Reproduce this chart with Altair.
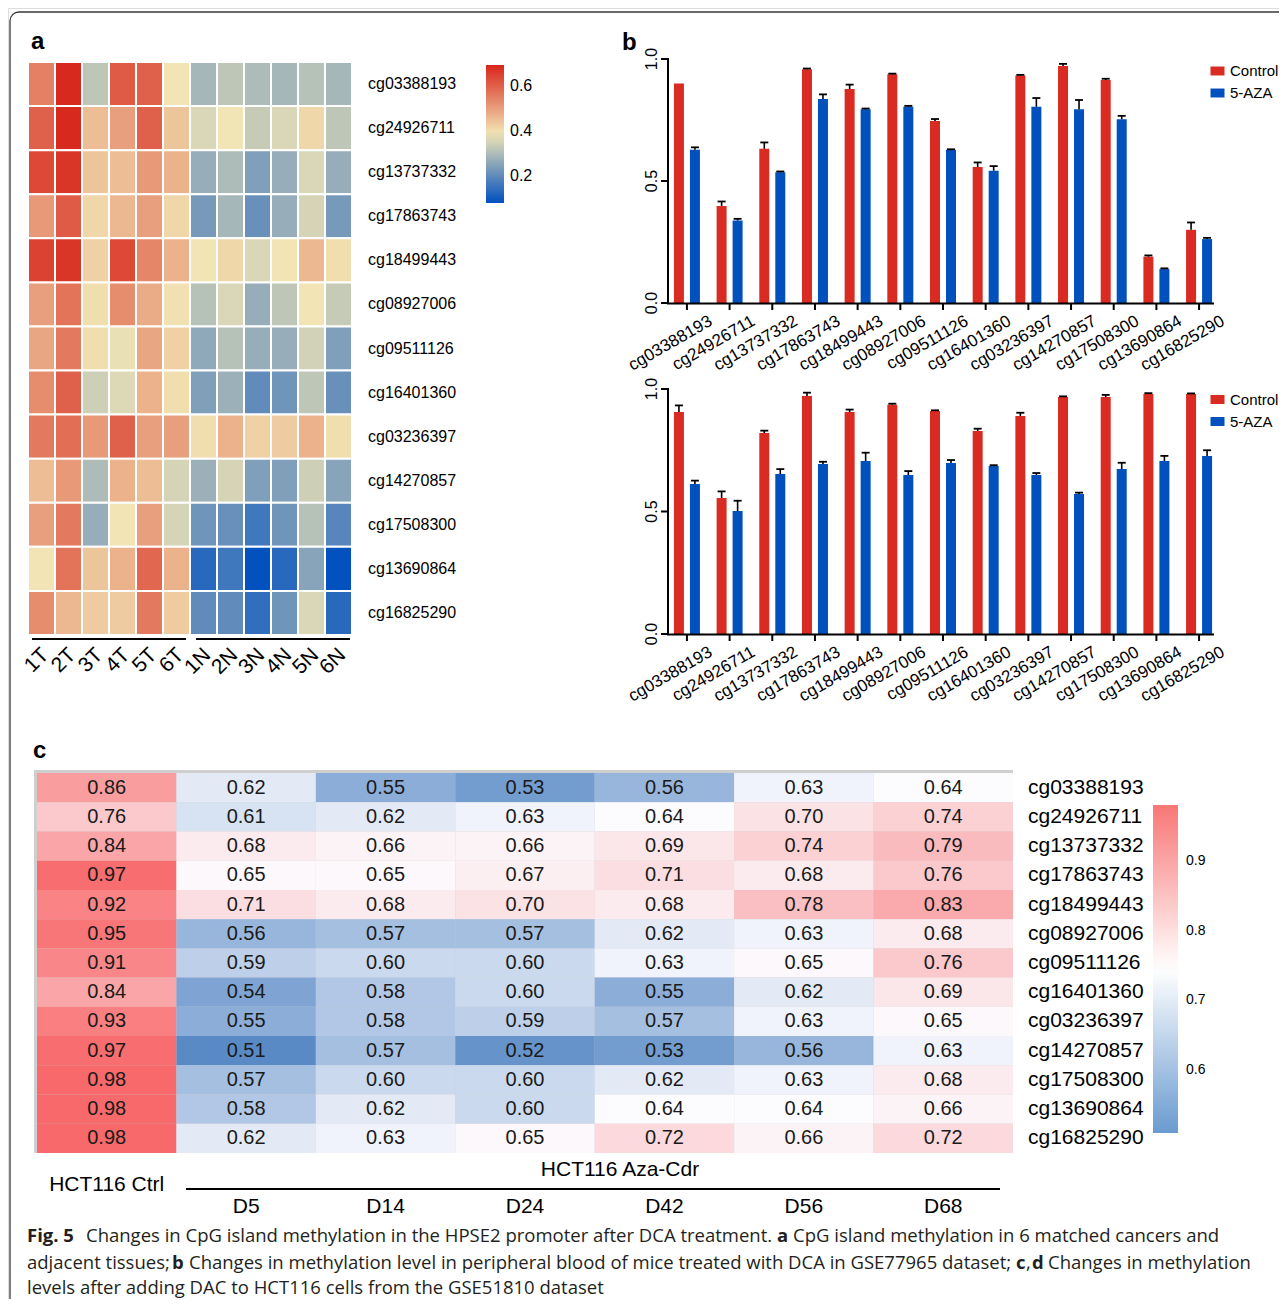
import altair as alt
import pandas as pd

W, H = 1271, 1291
F = "Liberation Sans"
CAP_F = "Open Sans"

probes = ["cg03388193", "cg24926711", "cg13737332", "cg17863743", "cg18499443",
          "cg08927006", "cg09511126", "cg16401360", "cg03236397", "cg14270857",
          "cg17508300", "cg13690864", "cg16825290"]

# ---------------- panel a ----------------
a_samples = ["1T", "2T", "3T", "4T", "5T", "6T", "1N", "2N", "3N", "4N", "5N", "6N"]
a_values = [
    [0.55, 0.69, 0.32, 0.61, 0.60, 0.39, 0.29, 0.32, 0.30, 0.29, 0.31, 0.29],
    [0.60, 0.69, 0.45, 0.50, 0.60, 0.44, 0.355, 0.385, 0.33, 0.355, 0.41, 0.32],
    [0.64, 0.67, 0.44, 0.45, 0.51, 0.47, 0.27, 0.30, 0.24, 0.27, 0.355, 0.27],
    [0.51, 0.61, 0.41, 0.46, 0.50, 0.41, 0.23, 0.29, 0.21, 0.27, 0.35, 0.23],
    [0.65, 0.67, 0.42, 0.64, 0.54, 0.47, 0.39, 0.41, 0.355, 0.39, 0.46, 0.40],
    [0.50, 0.57, 0.40, 0.53, 0.48, 0.395, 0.31, 0.355, 0.27, 0.32, 0.39, 0.33],
    [0.49, 0.56, 0.40, 0.375, 0.49, 0.42, 0.26, 0.31, 0.27, 0.27, 0.345, 0.24],
    [0.53, 0.60, 0.34, 0.36, 0.47, 0.40, 0.24, 0.275, 0.20, 0.22, 0.32, 0.21],
    [0.56, 0.58, 0.51, 0.60, 0.50, 0.50, 0.40, 0.47, 0.42, 0.43, 0.47, 0.40],
    [0.45, 0.51, 0.30, 0.47, 0.45, 0.35, 0.275, 0.35, 0.24, 0.24, 0.34, 0.25],
    [0.50, 0.56, 0.27, 0.39, 0.50, 0.35, 0.22, 0.21, 0.16, 0.22, 0.31, 0.19],
    [0.39, 0.57, 0.44, 0.47, 0.59, 0.47, 0.13, 0.16, 0.08, 0.13, 0.25, 0.08],
    [0.53, 0.46, 0.43, 0.43, 0.56, 0.43, 0.20, 0.20, 0.14, 0.22, 0.355, 0.13],
]
a_legend_values = [0.2, 0.4, 0.6]

# ---------------- panel b ----------------
groups = ["Control", "5-AZA"]
b1_control = [0.900, 0.398, 0.632, 0.958, 0.877, 0.937, 0.746, 0.557, 0.932, 0.971, 0.914, 0.190, 0.300]
b1_control_err = [0.0, 0.018, 0.026, 0.003, 0.018, 0.003, 0.008, 0.019, 0.003, 0.009, 0.005, 0.005, 0.030]
b1_aza = [0.628, 0.338, 0.536, 0.836, 0.794, 0.804, 0.628, 0.542, 0.804, 0.794, 0.753, 0.139, 0.262]
b1_aza_err = [0.010, 0.007, 0.003, 0.019, 0.003, 0.004, 0.002, 0.019, 0.036, 0.038, 0.014, 0.003, 0.005]

b2_control = [0.906, 0.555, 0.820, 0.971, 0.906, 0.936, 0.910, 0.829, 0.890, 0.967, 0.967, 0.980, 0.980]
b2_control_err = [0.027, 0.027, 0.010, 0.014, 0.010, 0.004, 0.003, 0.009, 0.013, 0.003, 0.009, 0.003, 0.002]
b2_aza = [0.612, 0.502, 0.653, 0.694, 0.706, 0.649, 0.698, 0.686, 0.649, 0.571, 0.673, 0.706, 0.727]
b2_aza_err = [0.014, 0.042, 0.020, 0.009, 0.034, 0.016, 0.012, 0.003, 0.008, 0.006, 0.026, 0.021, 0.023]
b_ticks = [0.0, 0.5, 1.0]

# ---------------- panel c ----------------
c_cols = ["HCT116 Ctrl", "D5", "D14", "D24", "D42", "D56", "D68"]
c_values = [
    [0.86, 0.62, 0.55, 0.53, 0.56, 0.63, 0.64],
    [0.76, 0.61, 0.62, 0.63, 0.64, 0.70, 0.74],
    [0.84, 0.68, 0.66, 0.66, 0.69, 0.74, 0.79],
    [0.97, 0.65, 0.65, 0.67, 0.71, 0.68, 0.76],
    [0.92, 0.71, 0.68, 0.70, 0.68, 0.78, 0.83],
    [0.95, 0.56, 0.57, 0.57, 0.62, 0.63, 0.68],
    [0.91, 0.59, 0.60, 0.60, 0.63, 0.65, 0.76],
    [0.84, 0.54, 0.58, 0.60, 0.55, 0.62, 0.69],
    [0.93, 0.55, 0.58, 0.59, 0.57, 0.63, 0.65],
    [0.97, 0.51, 0.57, 0.52, 0.53, 0.56, 0.63],
    [0.98, 0.57, 0.60, 0.60, 0.62, 0.63, 0.68],
    [0.98, 0.58, 0.62, 0.60, 0.64, 0.64, 0.66],
    [0.98, 0.62, 0.63, 0.65, 0.72, 0.66, 0.72],
]
c_legend_stops = [0.51, 0.98]
c_legend_values = [0.6, 0.7, 0.8, 0.9]

ONE = pd.DataFrame({"k": [0]})


def txt(text, x, y, size, bold=False, align="left", font=F, color="black"):
    return alt.Chart(ONE).mark_text(
        text=text, align=align, baseline="middle", fontSize=size,
        fontWeight="bold" if bold else "normal", font=font, color=color
    ).encode(x=alt.value(x), y=alt.value(y))


def hline(x1, x2, y, w=2, color="black"):
    return alt.Chart(ONE).mark_rule(strokeWidth=w, color=color).encode(
        x=alt.value(x1), x2=alt.value(x2), y=alt.value(y))


def vline(x, y1, y2, w=2, color="black"):
    return alt.Chart(ONE).mark_rule(strokeWidth=w, color=color).encode(
        x=alt.value(x), y=alt.value(y1), y2=alt.value(y2))


# frame (rounded box running past the right and bottom edges)
frame = alt.Chart(ONE).mark_rect(
    cornerRadius=9, fill="white", fillOpacity=0, stroke="#3a3a3a", strokeWidth=1.3
).encode(x=alt.value(2), x2=alt.value(1300), y=alt.value(4), y2=alt.value(1330))

# ---------- panel a ----------
a_df = pd.DataFrame([{"probe": p, "sample": s, "beta": a_values[i][j]}
                     for i, p in enumerate(probes) for j, s in enumerate(a_samples)])
xa = alt.Scale(domain=a_samples, range=[20, 344], paddingInner=0, paddingOuter=0)
ya = alt.Scale(domain=probes, range=[54, 627], paddingInner=0, paddingOuter=0)
ca = alt.Scale(domain=[0.078, 0.3865, 0.695], range=["#0050BF", "#F2E6B6", "#D8261B"],
               interpolate="rgb")
heat_a = alt.Chart(a_df).mark_rect(stroke="white", strokeWidth=2).encode(
    x=alt.X("sample:N", scale=xa, axis=None),
    y=alt.Y("probe:N", scale=ya, axis=None),
    fill=alt.Fill("beta:Q", scale=ca, legend=alt.Legend(
        orient="none", legendX=478, legendY=57, direction="vertical", title=None,
        gradientLength=138, gradientThickness=18, values=a_legend_values,
        labelFontSize=16, labelFont=F, labelColor="black", labelOffset=6,
        padding=0, gradientStrokeWidth=0, format=".1f")),
)
a_rowlab = alt.Chart(pd.DataFrame({"probe": probes})).mark_text(
    align="left", baseline="middle", fontSize=16, font=F, color="black"
).encode(y=alt.Y("probe:N", scale=ya, axis=None), x=alt.value(360), text="probe:N")
a_collab = alt.Chart(pd.DataFrame({"sample": a_samples})).mark_text(
    align="right", baseline="middle", angle=315, fontSize=21, font=F, color="black", xOffset=4
).encode(x=alt.X("sample:N", scale=xa, axis=None), y=alt.value(644), text="sample:N")
panel_a = alt.layer(heat_a, a_rowlab, a_collab)


# ---------- panel b ----------
def bar_panel(ctrl, ctrl_err, aza, aza_err, y0, y1, legend_y):
    xs = alt.Scale(domain=probes, range=[662.5, 1207.5], paddingInner=0.23, paddingOuter=0)
    ys = alt.Scale(domain=[0, 1], range=[y0, y1], nice=False, zero=True)
    cs = alt.Scale(domain=groups, range=["#D92B21", "#0050BE"])
    df_c = pd.DataFrame({"probe": probes, "group": "Control", "value": ctrl, "err": ctrl_err})
    df_a = pd.DataFrame({"probe": probes, "group": "5-AZA", "value": aza, "err": aza_err})
    for d in (df_c, df_a):
        d["upper"] = d["value"] + d["err"]
    leg = alt.Legend(orient="none", legendX=1202, legendY=legend_y, title=None,
                     direction="vertical",
                     symbolType="M-1,-0.64L1,-0.64L1,0.64L-1,0.64Z", symbolSize=196,
                     symbolStrokeWidth=0, labelFontSize=15, labelFont=F, labelColor="black",
                     labelOffset=5, rowPadding=6, padding=0)
    bars_c = alt.Chart(df_c).mark_bar(width=10, xOffset=-8).encode(
        x=alt.X("probe:N", scale=xs, axis=None),
        y=alt.Y("value:Q", scale=ys, axis=None),
        color=alt.Color("group:N", scale=cs, legend=leg))
    bars_a = alt.Chart(df_a).mark_bar(width=10, xOffset=8).encode(
        x=alt.X("probe:N", scale=xs, axis=None),
        y=alt.Y("value:Q", scale=ys, axis=None),
        color=alt.Color("group:N", scale=cs, legend=leg))
    layers = [bars_c, bars_a]
    for d, off in ((df_c, -8), (df_a, 8)):
        dd = d[d["err"] > 0]
        layers.append(alt.Chart(dd).mark_rule(xOffset=off, strokeWidth=1.6, color="black").encode(
            x=alt.X("probe:N", scale=xs, axis=None),
            y=alt.Y("value:Q", scale=ys, axis=None), y2="upper:Q"))
        layers.append(alt.Chart(dd).mark_tick(xOffset=off, size=8, thickness=1.8,
                                               color="black", opacity=1).encode(
            x=alt.X("probe:N", scale=xs, axis=None),
            y=alt.Y("upper:Q", scale=ys, axis=None)))
    # axes drawn through the same scales
    tdf = pd.DataFrame({"t": b_ticks})
    pdf = pd.DataFrame({"probe": probes})
    layers.append(vline(660, y0 + 1, y1 - 1))
    layers.append(hline(659, 1206, y0 + 0.5))
    layers.append(alt.Chart(tdf).mark_rule(strokeWidth=2, color="black").encode(
        x=alt.value(653), x2=alt.value(660), y=alt.Y("t:Q", scale=ys, axis=None)))
    layers.append(alt.Chart(tdf).mark_text(
        angle=270, align="center", baseline="middle", fontSize=16, font=F, color="black"
    ).encode(x=alt.value(644), y=alt.Y("t:Q", scale=ys, axis=None),
             text=alt.Text("t:Q", format=".1f")))
    layers.append(alt.Chart(pdf).mark_rule(strokeWidth=2, color="black").encode(
        x=alt.X("probe:N", scale=xs, axis=None), y=alt.value(y0), y2=alt.value(y0 + 7)))
    layers.append(alt.Chart(pdf).mark_text(
        angle=330, align="right", baseline="top", fontSize=17, font=F, color="black",
        xOffset=20
    ).encode(x=alt.X("probe:N", scale=xs, axis=None), y=alt.value(y0 + 10), text="probe:N"))
    return alt.layer(*layers)


panel_b1 = bar_panel(b1_control, b1_control_err, b1_aza, b1_aza_err, 295, 51, 55.5)
panel_b2 = bar_panel(b2_control, b2_control_err, b2_aza, b2_aza_err, 626, 381, 384)

# ---------- panel c ----------
c_df = pd.DataFrame([{"probe": p, "col": c, "v": c_values[i][j]}
                     for i, p in enumerate(probes) for j, c in enumerate(c_cols)])
xc = alt.Scale(domain=c_cols, range=[29, 1005], paddingInner=0, paddingOuter=0)
yc = alt.Scale(domain=probes, range=[765, 1145], paddingInner=0, paddingOuter=0)
cc = alt.Scale(domain=[0.51, 0.64, 0.98], range=["#5A8AC6", "#FCFCFF", "#F8696B"],
               interpolate="rgb")
c_border = alt.Chart(ONE).mark_rect(fill="#CFCFCF").encode(
    x=alt.value(26), x2=alt.value(1005), y=alt.value(762), y2=alt.value(1145))
heat_c = alt.Chart(c_df).mark_rect().encode(
    x=alt.X("col:N", scale=xc, axis=None),
    y=alt.Y("probe:N", scale=yc, axis=None),
    fill=alt.Fill("v:Q", scale=cc, legend=None))
c_text = alt.Chart(c_df).mark_text(fontSize=20, font=F, color="#1a1a1a", baseline="middle").encode(
    x=alt.X("col:N", scale=xc, axis=None),
    y=alt.Y("probe:N", scale=yc, axis=None),
    text=alt.Text("v:Q", format=".2f"))
c_rowlab = alt.Chart(pd.DataFrame({"probe": probes})).mark_text(
    align="left", baseline="middle", fontSize=21, font=F, color="black"
).encode(y=alt.Y("probe:N", scale=yc, axis=None), x=alt.value(1020), text="probe:N")
c_ctrl_lab = alt.Chart(pd.DataFrame({"col": c_cols[:1]})).mark_text(
    fontSize=21, font=F, color="black", baseline="middle"
).encode(x=alt.X("col:N", scale=xc, axis=None), y=alt.value(1177), text="col:N")
c_day_lab = alt.Chart(pd.DataFrame({"col": c_cols[1:]})).mark_text(
    fontSize=21, font=F, color="black", baseline="middle"
).encode(x=alt.X("col:N", scale=xc, axis=None), y=alt.value(1199), text="col:N")
panel_c = alt.layer(c_border, heat_c, c_text, c_rowlab, c_ctrl_lab, c_day_lab)

c_legend = alt.Chart(pd.DataFrame({"v": c_legend_stops})).mark_point(opacity=0).encode(
    color=alt.Color("v:Q", scale=alt.Scale(domain=[0.51, 0.745, 0.98],
                                           range=["#6A9BD0", "#FFFFFF", "#F87676"],
                                           interpolate="rgb"),
                    legend=alt.Legend(orient="none", legendX=1145, legendY=797,
                                      direction="vertical", gradientLength=328,
                                      gradientThickness=25, values=c_legend_values,
                                      title=None, labelFontSize=14, labelFont=F,
                                      labelColor="black", labelOffset=8, padding=0,
                                      gradientStrokeWidth=0, format=".1f")))

# ---------- texts ----------
texts = [
    txt("a", 23, 34, 24, bold=True),
    txt("b", 614, 35, 24, bold=True),
    txt("c", 25, 743, 24, bold=True),
    txt("HCT116 Aza-Cdr", 612, 1162, 21, align="center"),
    hline(178, 992, 1181),
    hline(24, 178, 631),
    hline(188, 342, 631),
]
CC = "#231F20"
CS = 18.5
cap = [
    ("Fig. 5", 19, 1228, True),
    ("Changes in CpG island methylation in the HPSE2 promoter after DCA treatment.", 78, 1228, False),
    ("a", 769, 1228, True),
    ("CpG island methylation in 6 matched cancers and", 785, 1228, False),
    ("adjacent tissues;", 19, 1255, False),
    ("b", 164, 1255, True),
    ("Changes in methylation level in peripheral blood of mice treated with DCA in GSE77965 dataset;", 181, 1255, False),
    ("c", 1008, 1255, True),
    (",", 1018, 1255, False),
    ("d", 1024, 1255, True),
    ("Changes in methylation", 1040, 1255, False),
    ("levels after adding DAC to HCT116 cells from the GSE51810 dataset", 19, 1280, False),
]
for t, x, y, b in cap:
    texts.append(txt(t, x, y, CS, bold=b, font=CAP_F, color=CC))

chart = alt.layer(
    frame, panel_a, panel_b1, panel_b2, panel_c, c_legend, *texts
).resolve_scale(
    x="independent", y="independent", color="independent", fill="independent"
).properties(
    width=W, height=H, autosize=alt.AutoSizeParams(type="none"), padding=0
).configure_view(stroke=None).configure(font=F, background="white")

chart.save("out.html", embed_options={"renderer": "svg", "actions": False})
